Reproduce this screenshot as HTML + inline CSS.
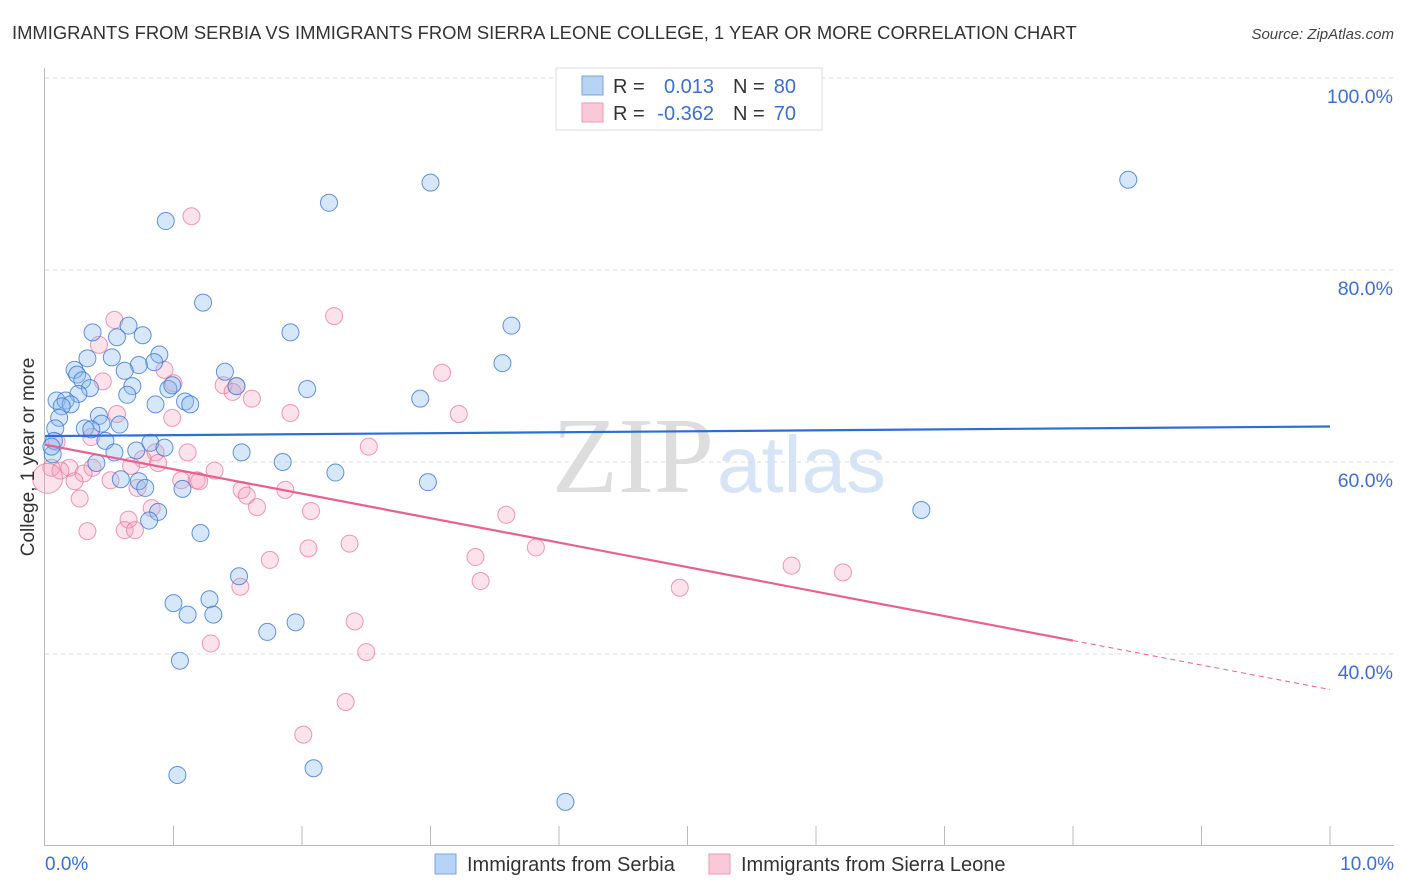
<!DOCTYPE html>
<html><head><meta charset="utf-8"><style>
body{margin:0;background:#fff;width:1406px;height:892px;overflow:hidden;font-family:"Liberation Sans",sans-serif}
svg{display:block}
</style></head><body>
<svg id="chart" width="1406" height="892">
<text x="12" y="39" font-size="18.4" fill="#333">IMMIGRANTS FROM SERBIA VS IMMIGRANTS FROM SIERRA LEONE COLLEGE, 1 YEAR OR MORE CORRELATION CHART</text>
<text x="1394" y="39" font-size="15" fill="#444" font-style="italic" text-anchor="end">Source: ZipAtlas.com</text>
<text x="714" y="492" font-size="108" fill="#ddd" text-anchor="end" font-family="Liberation Serif">ZIP</text>
<text x="717" y="492" font-size="80" fill="#d6e4f5">atlas</text>
<g id="grid"></g>
<g id="axes"></g>
<g id="pts"></g>
<g id="lines"></g>
<text transform="translate(34,457) rotate(-90)" font-size="19" fill="#333" text-anchor="middle">College, 1 year or more</text>
<g>
<rect x="556" y="68" width="266" height="62" fill="#fff" stroke="#ddd"/>
<rect x="582" y="76" width="21" height="19" fill="#b7d3f5" stroke="#7aa6e0"/>
<rect x="582" y="103" width="21" height="19" fill="#fac9d8" stroke="#ec9ab4"/>
<text x="613" y="93" font-size="20" fill="#333">R =</text>
<text x="714" y="93" font-size="20" fill="#3b6fd0" text-anchor="end">0.013</text>
<text x="733" y="93" font-size="20" fill="#333">N =</text>
<text x="796" y="93" font-size="20" fill="#3b6fd0" text-anchor="end">80</text>
<text x="613" y="120" font-size="20" fill="#333">R =</text>
<text x="714" y="120" font-size="20" fill="#3b6fd0" text-anchor="end">-0.362</text>
<text x="733" y="120" font-size="20" fill="#333">N =</text>
<text x="796" y="120" font-size="20" fill="#3b6fd0" text-anchor="end">70</text>
</g>
<g>
<rect x="435" y="854" width="21" height="20" fill="#b7d3f5" stroke="#7aa6e0"/>
<text x="467" y="871" font-size="20" fill="#333">Immigrants from Serbia</text>
<rect x="709" y="854" width="21" height="20" fill="#fac9d8" stroke="#ec9ab4"/>
<text x="741" y="871" font-size="20" fill="#333">Immigrants from Sierra Leone</text>
</g>
</svg>
<script>
const xTicks=[0,1,2,3,4,5,6,7,8,9,10];
const yTicks=[40,60,80,100];
const yTickLabels=["40.0%","60.0%","80.0%","100.0%"];
const blueX=[8.43,3.00,2.21,0.94,1.23,1.91,3.63,0.37,0.65,0.76,0.56,3.56,0.33,0.52,0.89,0.85,0.73,0.23,0.25,0.62,1.40,0.29,0.68,0.96,0.99,1.49,2.04,0.35,0.26,0.64,2.92,0.09,0.16,0.20,0.13,0.86,1.09,1.13,0.42,0.11,0.44,0.58,0.31,0.36,0.08,0.47,0.07,0.82,0.93,0.71,0.06,0.54,1.53,0.40,1.85,2.26,2.98,0.59,0.73,0.78,1.07,6.82,0.88,0.81,1.21,1.51,1.00,1.28,1.11,1.31,1.95,1.73,1.05,1.03,2.09,4.05,0.05];
const blueY=[89.4,89.1,87.0,85.1,76.6,73.5,74.2,73.5,74.2,73.2,73.0,70.3,70.8,70.9,71.2,70.4,70.1,69.6,69.1,69.5,69.4,68.5,67.9,67.6,68.0,67.9,67.6,67.7,67.1,67.0,66.6,66.4,66.4,66.0,65.8,66.0,66.3,66.0,64.8,64.6,64.0,63.9,63.5,63.4,63.5,62.2,62.2,62.0,61.5,61.2,60.8,61.0,61.0,59.9,60.0,58.9,57.9,58.2,58.0,57.3,57.2,55.0,54.8,53.9,52.6,48.1,45.3,45.7,44.1,44.1,43.3,42.3,39.3,27.4,28.1,24.6,61.6];
const pinkX=[1.14,2.25,0.54,0.42,0.93,3.09,0.45,1.00,1.39,1.49,1.46,1.61,0.56,0.99,1.91,3.22,0.36,0.09,2.52,1.11,0.86,0.76,0.88,0.05,0.19,0.37,0.12,0.67,0.30,1.32,0.23,0.51,1.06,1.18,1.20,0.72,1.53,1.87,1.57,0.27,0.83,1.65,2.07,3.59,0.65,0.62,0.70,0.33,2.37,3.82,2.05,3.35,1.75,5.81,6.21,3.39,1.52,4.94,2.41,1.29,2.50,2.34,2.01,0.02];
const pinkY=[85.6,75.2,74.8,72.2,69.6,69.3,68.4,68.2,68.0,67.9,67.3,66.6,65.0,64.6,65.1,65.0,62.6,62.1,61.6,61.0,61.0,60.3,59.9,59.4,59.4,59.4,59.1,59.6,58.8,59.1,58.0,58.1,58.1,58.1,58.0,57.3,57.1,57.1,56.5,56.2,55.2,55.3,54.9,54.5,54.0,52.9,52.9,52.8,51.5,51.1,51.0,50.1,49.8,49.2,48.5,47.6,47.0,46.9,43.4,41.1,40.2,35.0,31.6,58.3];
const blueTrend=[62.7,63.7];
const pinkTrend=[61.8,36.3];
const pinkSolidEnd=8.0;
const NS='http://www.w3.org/2000/svg';
const X=v=>45+v*128.5;
const Y=v=>78+(100-v)*9.6;
function mk(tag,attrs,parent){const e=document.createElementNS(NS,tag);for(const k in attrs)e.setAttribute(k,attrs[k]);parent.appendChild(e);return e;}
const grid=document.getElementById('grid'),axes=document.getElementById('axes'),pts=document.getElementById('pts'),lines=document.getElementById('lines');
yTicks.forEach((t,i)=>{
 const l=mk('line',{x1:45,x2:1394,y1:Y(t),y2:Y(t),stroke:'#ddd','stroke-dasharray':'4,4'},grid);
 
 
 const tx=mk('text',{x:1393,y:Y(t)+25,'font-size':19.5,fill:'#3b6fd0','text-anchor':'end'},grid);
 tx.textContent=yTickLabels[i];
 
 
});
const ax=mk('path',{d:'M44.5 68V845.5H1394',fill:'none',stroke:'#bbb'},axes);


xTicks.forEach(t=>{
 if(t===0)return;
 const l=mk('line',{x1:X(t),x2:X(t),y1:826,y2:845,stroke:'#bbb'},axes);
 
 
});
const xl0=mk('text',{x:45,y:870,'font-size':19,fill:'#3b6fd0'},axes);xl0.textContent='0.0%';


const xl1=mk('text',{x:1394,y:870,'font-size':19,fill:'#3b6fd0','text-anchor':'end'},axes);xl1.textContent='10.0%';


pinkX.forEach((v,i)=>{
 const big=i===pinkX.length-1;
 const c=mk('circle',{cx:X(v),cy:Y(pinkY[i]),r:big?15:8.5,fill:'rgba(245,160,188,0.3)',stroke:'rgba(232,120,155,0.75)','stroke-width':1},pts);
 
 
});
blueX.forEach((v,i)=>{
 const c=mk('circle',{cx:X(v),cy:Y(blueY[i]),r:8.5,fill:'rgba(140,185,240,0.35)',stroke:'rgba(60,120,210,0.8)','stroke-width':1},pts);
 
 
});
const bl=mk('line',{x1:X(0),y1:Y(blueTrend[0]),x2:X(10),y2:Y(blueTrend[1]),stroke:'#2a6fd6','stroke-width':2.2},lines);


const pm=pinkTrend[0]+(pinkTrend[1]-pinkTrend[0])*pinkSolidEnd/10;
const pl=mk('line',{x1:X(0),y1:Y(pinkTrend[0]),x2:X(pinkSolidEnd),y2:Y(pm),stroke:'#e8608f','stroke-width':2.2},lines);


const pd=mk('line',{x1:X(pinkSolidEnd),y1:Y(pm),x2:X(10),y2:Y(pinkTrend[1]),stroke:'#e8608f','stroke-width':1,'stroke-dasharray':'5,4'},lines);


</script>
</body></html>
